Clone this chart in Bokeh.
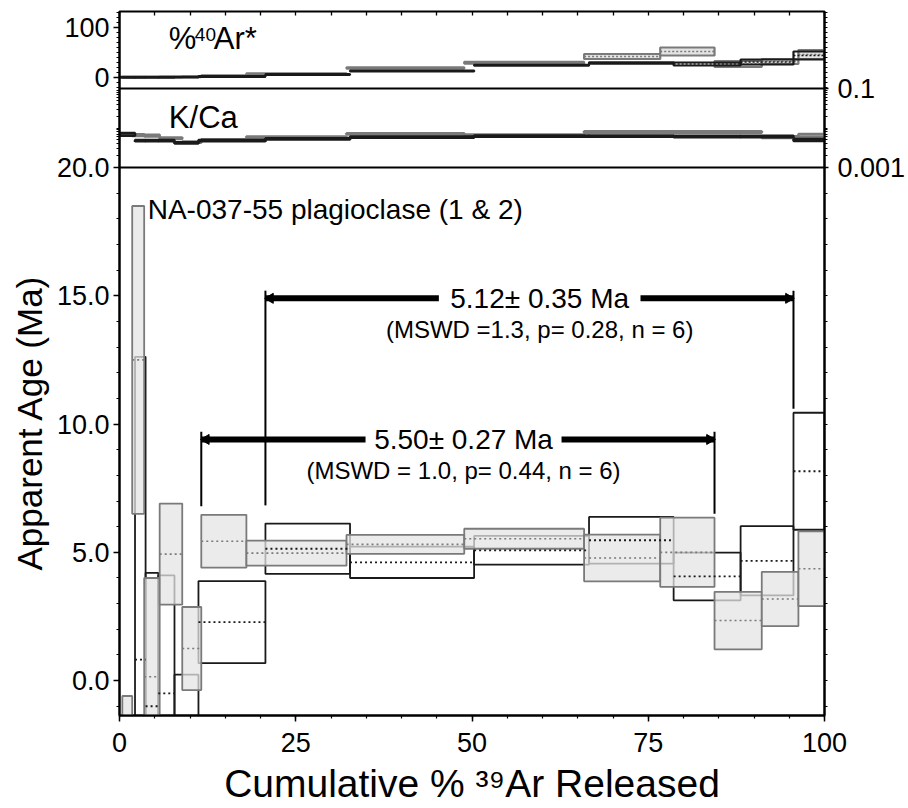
import math
from bokeh.plotting import figure
from bokeh.models import (Range1d, LogScale, LinearAxis, FixedTicker, Span, Title,
                          CustomJSTickFormatter)
from bokeh.embed import file_html
from bokeh.resources import INLINE
from bokeh.core.properties import value

FONT = "Liberation Sans"

# ---------------- data ----------------
# sample shown as grey filled boxes
gray_edges = [0.4, 1.8, 3.5, 5.7, 8.9, 11.6, 18.0, 32.2, 48.9, 65.9, 76.7, 84.4, 91.1, 96.3, 100.0]
gray_age = [-2.0, 12.5, 0.15, 4.93, 1.25, 5.43, 4.97, 5.31, 5.53, 4.78, 5.00, 2.34, 3.18, 4.36]
gray_err = [1.4, 6.0, 3.85, 1.97, 1.62, 1.03, 0.49, 0.37, 0.39, 0.91, 1.35, 1.12, 1.06, 1.46]
gray_ar = [0.5, 0.5, 0.8, 1.0, 1.5, 3.4, 7.4, 19.0, 29.5, 42.0, 52.0, 27.0, 32.0, 46.0]
gray_ar_err = [0.6, 0.6, 0.6, 0.6, 0.6, 1.0, 1.0, 1.5, 2.0, 5.0, 8.0, 6.0, 5.0, 9.0]
gray_kca = [0.0068, 0.0066, 0.0064, 0.0055, 0.0044, 0.0050, 0.0059, 0.0071, 0.0066,
            0.0079, 0.0079, 0.0079, 0.0059, 0.0065]
gray_kca_err = [0.06, 0.05, 0.05, 0.05, 0.04, 0.04, 0.04, 0.04, 0.04, 0.04, 0.04, 0.04, 0.05, 0.08]

# sample shown as black open boxes
black_edges = [0.0, 2.2, 3.7, 5.5, 7.8, 11.2, 20.7, 32.7, 50.3, 66.6, 78.6, 88.1, 95.6, 100.0]
black_age = [-5.0, 0.82, -1.0, -0.5, -1.5, 2.28, 5.14, 4.61, 5.08, 5.47, 4.06, 4.67, 8.16]
black_err = [3.0, 11.8, 5.2, 4.6, 1.73, 1.6, 0.98, 0.61, 0.56, 0.91, 0.93, 1.35, 2.28]
black_ar = [0.5, 0.5, 0.5, 0.5, 0.8, 2.0, 6.0, 13.0, 24.5, 29.0, 27.0, 31.0, 44.0]
black_ar_err = [0.6, 0.6, 0.6, 0.6, 0.6, 0.6, 0.6, 0.8, 1.0, 1.5, 3.0, 5.0, 8.0]
black_kca = [0.0069, 0.0048, 0.0048, 0.0048, 0.0042, 0.0048, 0.0053, 0.0059, 0.0062,
             0.0062, 0.0061, 0.0061, 0.0050]
black_kca_err = [0.08, 0.04, 0.04, 0.04, 0.04, 0.04, 0.04, 0.04, 0.04, 0.04, 0.04, 0.04, 0.06]

# plateaus: first/last step index of each plateau
plateau_series = ["black", "gray"]
plateau_first = [6, 5]
plateau_last = [11, 10]
plateau_age_text = ["5.12\u00b1 0.35 Ma", "5.50\u00b1 0.27 Ma"]
plateau_stat_text = ["(MSWD =1.3, p= 0.28, n = 6)", "(MSWD = 1.0, p= 0.44, n = 6)"]

title_text = "NA-037-55 plagioclase (1 & 2)"

x_ticks = [0, 25, 50, 75, 100]
age_ticks = [0, 5, 10, 15, 20]
age_tick_labels = ["0.0", "5.0", "10.0", "15.0", "20.0"]
ar_ticks = [0, 100]
ar_tick_labels = ["0", "100"]
kca_ticks = [0.1, 0.001]
kca_tick_labels = ["0.1", "0.001"]

# ---------------- layout ----------------
W, H = 908, 808
FL, FR, FT, FB = 119, 84, 11, 93
AR_H, KCA_H, MAIN_H = 77, 79, 548
AGE_LO, AGE_HI = -1.36, 20.0
AR_LO, AR_HI = -22.0, 132.0
KCA_LO, KCA_HI = 0.001, 0.1

age_pp = (AGE_HI - AGE_LO) / MAIN_H
prim_lo, prim_hi = AGE_LO, AGE_HI + (AR_H + KCA_H) * age_pp
ar_pp = (AR_HI - AR_LO) / AR_H
ar_lo, ar_hi = AR_LO - (KCA_H + MAIN_H) * ar_pp, AR_HI
dec_pp = (math.log10(KCA_HI) - math.log10(KCA_LO)) / KCA_H
kl_lo = math.log10(KCA_LO) - MAIN_H * dec_pp
kl_hi = math.log10(KCA_HI) + AR_H * dec_pp


def ar_to_prim(v):
    return prim_lo + (v - ar_lo) / (ar_hi - ar_lo) * (prim_hi - prim_lo)


def kca_to_prim(v):
    return prim_lo + (math.log10(v) - kl_lo) / (kl_hi - kl_lo) * (prim_hi - prim_lo)


p = figure(width=W, height=H, x_range=Range1d(0, 100), y_range=Range1d(prim_lo, prim_hi),
           output_backend="svg", toolbar_location=None,
           min_border_left=FL, min_border_right=FR, min_border_top=FT, min_border_bottom=FB)
p.extra_y_ranges = {"ar": Range1d(ar_lo, ar_hi), "kca": Range1d(10 ** kl_lo, 10 ** kl_hi)}
p.extra_y_scales = {"kca": LogScale()}
p.grid.visible = False
p.outline_line_color = "black"
p.outline_line_width = 2
p.background_fill_color = "white"
p.border_fill_color = "white"

GRAY_LINE = "#7a7a7a"
GRAY_FILL = "#e4e4e4"
BLACK = "#1a1a1a"


def steps(edges):
    return edges[:-1], edges[1:]


# ---- main age spectrum ----
bl, br = steps(black_edges)
p.quad(left=bl, right=br, bottom=[a - e for a, e in zip(black_age, black_err)],
       top=[a + e for a, e in zip(black_age, black_err)],
       fill_color=None, line_color=BLACK, line_width=1.8)
gl, gr = steps(gray_edges)
p.quad(left=gl, right=gr, bottom=[a - e for a, e in zip(gray_age, gray_err)],
       top=[a + e for a, e in zip(gray_age, gray_err)],
       fill_color=GRAY_FILL, fill_alpha=0.75, line_color=GRAY_LINE, line_width=1.8)
p.segment(x0=gl, x1=gr, y0=gray_age, y1=gray_age, line_color=GRAY_LINE,
          line_width=1.6, line_dash="2 3")
p.segment(x0=bl, x1=br, y0=black_age, y1=black_age, line_color=BLACK,
          line_width=1.8, line_dash="2 3")

# ---- %40Ar* panel ----
p.quad(left=gl, right=gr, bottom=[a - e for a, e in zip(gray_ar, gray_ar_err)],
       top=[a + e for a, e in zip(gray_ar, gray_ar_err)], y_range_name="ar",
       fill_color=GRAY_FILL, line_color=GRAY_LINE, line_width=2.2)
p.segment(x0=gl, x1=gr, y0=gray_ar, y1=gray_ar, y_range_name="ar", line_color=GRAY_LINE,
          line_width=1.5, line_dash="2 2")
p.quad(left=bl, right=br, bottom=[a - e for a, e in zip(black_ar, black_ar_err)],
       top=[a + e for a, e in zip(black_ar, black_ar_err)], y_range_name="ar",
       fill_color=None, line_color=BLACK, line_width=2.2)
p.segment(x0=bl, x1=br, y0=black_ar, y1=black_ar, y_range_name="ar", line_color=BLACK,
          line_width=1.5, line_dash="2 2")

# ---- K/Ca panel ----
p.quad(left=gl, right=gr, bottom=[k / (1 + e) for k, e in zip(gray_kca, gray_kca_err)],
       top=[k * (1 + e) for k, e in zip(gray_kca, gray_kca_err)], y_range_name="kca",
       fill_color=GRAY_FILL, line_color=GRAY_LINE, line_width=2.5)
p.quad(left=bl, right=br, bottom=[k / (1 + e) for k, e in zip(black_kca, black_kca_err)],
       top=[k * (1 + e) for k, e in zip(black_kca, black_kca_err)], y_range_name="kca",
       fill_color=None, line_color=BLACK, line_width=2.5)

# panel separators
p.add_layout(Span(location=AGE_HI, dimension="width", line_color="black", line_width=2))
p.add_layout(Span(location=KCA_HI, dimension="width", y_range_name="kca",
                  line_color="black", line_width=2))

# ---- plateau brackets ----
bar_y = [14.9, 9.4]
text_x = [59.6, 48.8]
gap_half = [14.3, 13.9]
low_left = [6.83, 6.8]
low_right = [10.6, 6.5]
series_edges = {"black": black_edges, "gray": gray_edges}
for i in range(2):
    ed = series_edges[plateau_series[i]]
    x0 = ed[plateau_first[i]]
    x1 = ed[plateau_last[i] + 1]
    p.segment(x0=[x0, text_x[i] + gap_half[i]], x1=[text_x[i] - gap_half[i], x1],
              y0=[bar_y[i]] * 2, y1=[bar_y[i]] * 2, line_color="black", line_width=6)
    p.segment(x0=[x0, x1], x1=[x0, x1], y0=[bar_y[i] + 0.3] * 2,
              y1=[low_left[i], low_right[i]], line_color="black", line_width=2)
    p.scatter(x=[x0 + 0.7], y=[bar_y[i]], marker="triangle", angle=math.pi / 2, size=10,
              fill_color="black", line_color="black")
    p.scatter(x=[x1 - 0.7], y=[bar_y[i]], marker="triangle", angle=-math.pi / 2, size=10,
              fill_color="black", line_color="black")
    p.text(x=[text_x[i]], y=[bar_y[i]], text=[plateau_age_text[i]],
           text_font=value(FONT), text_font_size=value("28px"), text_align="center",
           text_baseline="middle", text_color="black")
    p.text(x=[text_x[i]], y=[bar_y[i] - 1.2], text=[plateau_stat_text[i]],
           text_font=value(FONT), text_font_size=value("24px"), text_align="center",
           text_baseline="middle", text_color="black")

p.text(x=[4.0], y=[18.36], text=[title_text], text_font=value(FONT),
       text_font_size=value("28px"), text_align="left", text_baseline="middle",
       text_color="black")
# "%40Ar*" with a raised, smaller "40"
p.text(x=[7.0] * 3, y=[78.0, 86.0, 78.0], text=["%", "40", "Ar*"], y_range_name="ar",
       x_offset=[0, 26, 45], text_font=value(FONT),
       text_font_size=["31px", "19px", "31px"], text_align="left", text_baseline="middle",
       text_color="black")
p.text(x=[7.0], y=[0.0185], text=["K/Ca"], y_range_name="kca", text_font=value(FONT),
       text_font_size=value("31px"), text_align="left", text_baseline="middle",
       text_color="black")

# ---- axes ----
JS = """
let best = 0, bd = 1e99;
for (let i = 0; i < T.length; i++) { const d = Math.abs(T[i] - tick); if (d < bd) { bd = d; best = i; } }
return L[best];
"""

left_ticks = list(age_ticks) + [ar_to_prim(v) for v in ar_ticks]
left_labels = list(age_tick_labels) + list(ar_tick_labels)
right_ticks = [kca_to_prim(v) for v in kca_ticks]
right_labels = list(kca_tick_labels)
minor = [float(v) for v in range(-1, 21)]
minor += [ar_to_prim(v) for v in range(-20, 131, 10)]
minor += [kca_to_prim(m * 10 ** d) for d in (-3, -2) for m in range(1, 10)]

yax = p.yaxis[0]
yax.ticker = FixedTicker(ticks=left_ticks, minor_ticks=minor)
yax.formatter = CustomJSTickFormatter(args=dict(T=left_ticks, L=left_labels), code=JS)

rax = LinearAxis(ticker=FixedTicker(ticks=right_ticks, minor_ticks=minor),
                 formatter=CustomJSTickFormatter(args=dict(T=right_ticks, L=right_labels), code=JS))
p.add_layout(rax, "right")

xax = p.xaxis[0]
xax.ticker = FixedTicker(ticks=x_ticks, minor_ticks=list(range(0, 101, 5)))
xax.axis_label = "Cumulative % \u00b3\u2079Ar Released"

for ax in [yax, rax, xax]:
    ax.axis_line_color = "black"
    ax.axis_line_width = 2
    ax.major_tick_line_width = 1.5
    ax.minor_tick_line_width = 1.2
    ax.major_tick_out = 6
    ax.major_tick_in = 0
    ax.minor_tick_out = 3
    ax.minor_tick_in = 0
    ax.major_label_text_font = FONT
    ax.major_label_text_font_size = "27px"
    ax.major_label_text_color = "black"
    ax.axis_label_text_font = FONT
    ax.axis_label_text_font_size = "39px"
    ax.axis_label_text_font_style = "normal"
    ax.axis_label_text_color = "black"

yax.major_label_standoff = 4
xax.major_label_standoff = 11
xax.axis_label_standoff = 7
rax.major_tick_out = 4
rax.major_label_standoff = 9

# top edge: short inward ticks only (no labels)
tpx = LinearAxis(ticker=FixedTicker(ticks=[], minor_ticks=list(range(0, 101, 5))))
tpx.axis_line_color = None
tpx.minor_tick_in = 4
tpx.minor_tick_out = 0
tpx.major_tick_out = 0
tpx.minor_tick_line_width = 1.3
tpx.major_label_standoff = 0
p.add_layout(tpx, "above")

# y title, centred over the age panel (offset measured from the frame bottom)
p.add_layout(Title(text="Apparent Age (Ma)", align="left", offset=145,
                   text_font=FONT, text_font_size="35px", text_font_style="normal",
                   text_color="black", standoff=10), "left")

open("out.html", "w").write(file_html(p, INLINE))
